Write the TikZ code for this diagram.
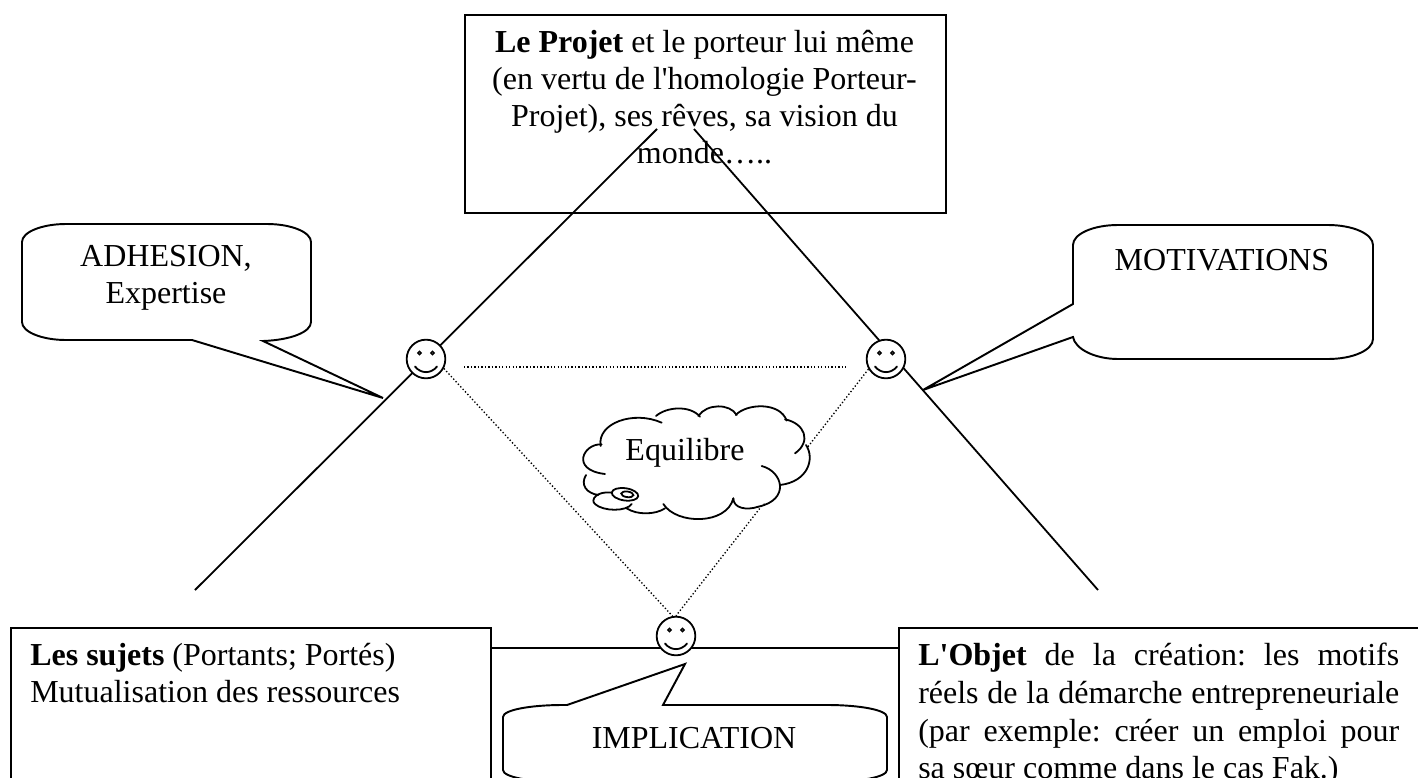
\documentclass[tikz,border=0pt]{standalone}
\usepackage{fontspec}
\newfontfamily\lib{Liberation Serif}
\tikzset{
  x=0.75pt,y=-0.75pt,
  boxed/.style={draw=black,fill=white,line width=1.5pt,rectangle,inner sep=0pt,anchor=north west},
  callout/.style={draw=black,fill=white,line width=1.45pt},
  axis/.style={draw=black,line width=1.35pt},
  dots/.style={draw=black,line width=1pt,dash pattern=on 1pt off 1.6pt},
  txt/.style={font=\fontsize{24}{27.75}\lib\frenchspacing,inner sep=0pt,text=black},
  face/.style={circle,draw=black,fill=white,line width=1.35pt,minimum size=29pt,inner sep=0pt},
  cloudline/.style={draw=black,line width=1.35pt,line cap=round}
}
\newcommand{\smiley}[3]{%
  \node[face] (#1) at (#2,#3) {};
  \draw[line width=1pt] (#2-6.5,#3-6) circle (1.2pt) (#2+6.5,#3-6) circle (1.2pt);
  \draw[line width=1.35pt,line cap=round] (#2-11,#3+7.5) .. controls (#2-5,#3+15) and (#2+5,#3+15) .. (#2+11,#3+7.5);
}
\begin{document}
\begin{tikzpicture}
\path[use as bounding box] (0,0) rectangle (1418,778);
\clip (0,0) rectangle (1418,778);
\fill[white] (0,0) rectangle (1418,778);

% rectangles
\node[boxed,minimum width=360.75pt,minimum height=148.5pt] (projet) at (464,14) {};
\node[boxed,minimum width=360pt,minimum height=135pt] (sujets) at (10,627) {};
\node[boxed,minimum width=400pt,minimum height=135pt] (objet) at (898,627) {};

% triangle of axes
\coordinate (ltop) at (657,129);
\coordinate (lbot) at (195,590);
\coordinate (rtop) at (694,129);
\coordinate (rbot) at (1098,590);
\coordinate (hl) at (490,648);
\coordinate (hr) at (898,648);
\draw[axis] (ltop) -- (lbot);
\draw[axis] (rtop) -- (rbot);
\draw[axis] (hl) -- (hr);

% dotted triangle
\coordinate (dl) at (464,367);
\coordinate (dr) at (846,367);
\smiley{sl}{426}{359}
\smiley{sr}{886}{359}
\smiley{sb}{676}{636}
\draw[dots] (dl) -- (dr);
\draw[dots] (sl.-28) -- (sb.100);
\draw[dots] (sr.210) -- (sb.90);

% callouts
\draw[callout] (66,224) -- (267,224) .. controls (291,224) and (311,232) .. (311,242)
  -- (311,322) .. controls (311,332) and (291,340) .. (263,341) -- (383,398) -- (192,340)
  -- (66,340) .. controls (42,340) and (22,332) .. (22,322) -- (22,242)
  .. controls (22,232) and (42,224) .. (66,224) -- cycle;
\draw[callout] (1118,225) -- (1328,225) .. controls (1353,225) and (1373,234) .. (1373,245)
  -- (1373,339) .. controls (1373,350) and (1353,359) .. (1328,359) -- (1118,359)
  .. controls (1095,359) and (1075,349) .. (1073,337) -- (923,390) -- (1073,304) -- (1073,245)
  .. controls (1073,234) and (1093,225) .. (1118,225) -- cycle;
\draw[callout] (563,705) -- (567,705) -- (685,664) -- (663,705) -- (827,705)
  .. controls (860,705) and (887,710) .. (887,717) -- (887,770)
  .. controls (887,777) and (860,782) .. (827,782) -- (563,782)
  .. controls (530,782) and (503,777) .. (503,770) -- (503,717)
  .. controls (503,710) and (530,705) .. (563,705) -- cycle;

% cloud (coordinates in units of a third of a reference pixel)
\begin{scope}[shift={(570,400)},x=0.25pt,y=-0.25pt]
\fill[white] (92,135) -- (130,75) -- (200,55) -- (258,48) -- (300,25) -- (350,25) -- (390,45)
  -- (440,20) -- (500,42) -- (570,15) -- (650,60) -- (700,90) -- (708,135) -- (720,190)
  -- (630,255) -- (600,300) -- (565,320) -- (490,330) -- (400,355) -- (300,330) -- (180,330)
  -- (75,290) -- (48,225) -- (15,190) -- (40,145) -- cycle;
\draw[cloudline] (92,138) .. controls (80,70) and (190,30) .. (275,68);
\draw[cloudline] (258,48) .. controls (290,20) and (360,15) .. (390,50);
\draw[cloudline] (385,48) .. controls (410,10) and (480,10) .. (500,45);
\draw[cloudline] (497,45) .. controls (530,10) and (630,5) .. (650,62);
\draw[cloudline] (645,58) .. controls (705,70) and (725,125) .. (675,160);
\draw[cloudline] (708,135) .. controls (735,175) and (715,245) .. (630,255);
\draw[cloudline] (575,198) .. controls (640,215) and (660,300) .. (565,320);
\draw[cloudline] (490,295) .. controls (490,325) and (530,332) .. (565,320);
\draw[cloudline] (280,312) .. controls (320,375) and (470,375) .. (490,295);
\draw[cloudline] (285,325) .. controls (255,345) and (200,345) .. (170,325);
\draw[cloudline] (48,225) .. controls (30,255) and (50,280) .. (85,285);
\draw[cloudline] (95,133) .. controls (40,130) and (0,210) .. (105,222);
\draw[cloudline] (125,278) .. controls (80,272) and (60,300) .. (75,312)
  .. controls (100,335) and (170,335) .. (185,312);
\draw[cloudline,fill=white,rotate around={-8:(165,283)}] (165,283) ellipse [x radius=10pt,y radius=4.6pt];
\draw[cloudline,rotate around={-8:(172,283)}] (172,283) ellipse [x radius=4.6pt,y radius=2.1pt];
\end{scope}

% texts
\node[txt,anchor=north,align=center] (tprojet) at (704.5,30) {\textbf{Le Projet} et le porteur lui même\\(en vertu de l'homologie Porteur-\\Projet), ses rêves, sa vision du\\monde…..};
\node[txt,anchor=north,align=center] (tadh) at (166,245) {ADHESION,\\Expertise};
\node[txt,anchor=base] (tmot) at (1222,270) {MOTIVATIONS};
\node[txt,anchor=base] (timp) at (694,748) {IMPLICATION};
\node[txt,anchor=base] (teq) at (685,460) {Equilibre};
\node[txt,anchor=north west,align=left] (tsuj) at (30,643) {\textbf{Les sujets} (Portants; Portés)\\Mutualisation des ressources};
\node[txt,font=\fontsize{24}{28.2}\lib\frenchspacing,anchor=north west,align=left] (tobj) at (918,643) {\hbox to 360.75pt{\textbf{L'Objet} de la création: les motifs}\\\hbox to 360.75pt{réels de la démarche entrepreneuriale}\\\hbox to 360.75pt{(par exemple: créer un emploi pour}\\sa sœur comme dans le cas Fak.)};
\end{tikzpicture}
\end{document}
